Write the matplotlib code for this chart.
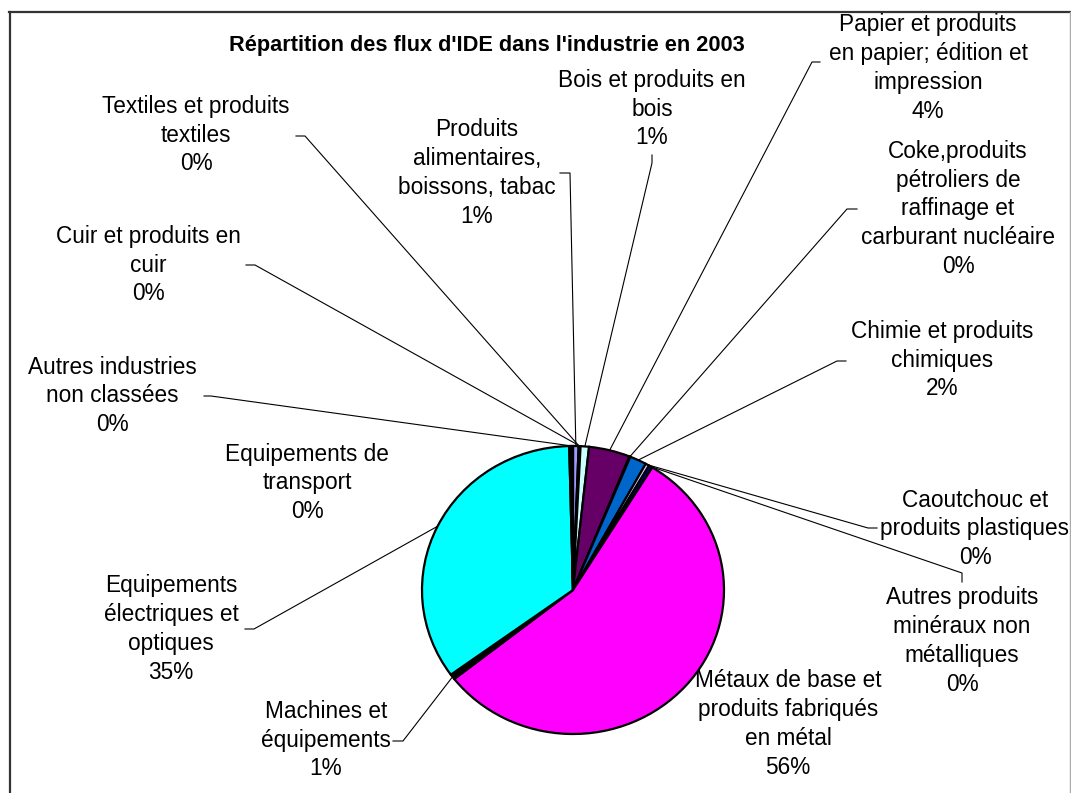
import matplotlib
matplotlib.use('Agg')
import numpy as np
import matplotlib.pyplot as plt

plt.rcParams['font.family'] = ['Liberation Sans', 'DejaVu Sans']

# %% data (share of FDI flows, %)
sectors = ['Produits\nalimentaires,\nboissons, tabac',
           'Textiles et produits\ntextiles',
           'Cuir et produits en\ncuir',
           'Bois et produits en\nbois',
           'Papier et produits\nen papier; édition et\nimpression',
           'Coke,produits\npétroliers de\nraffinage et\ncarburant nucléaire',
           'Chimie et produits\nchimiques',
           'Caoutchouc et\nproduits plastiques',
           'Autres produits\nminéraux non\nmétalliques',
           'Métaux de base et\nproduits fabriqués\nen métal',
           'Machines et\néquipements',
           'Equipements\nélectriques et\noptiques',
           'Equipements de\ntransport',
           'Autres industries\nnon classées']
values = [0.6, 0.1, 0.1, 0.9, 4.4, 0.1, 1.8, 0.4, 0.4, 55.6, 0.6, 34.6, 0.2, 0.2]
colors = ['#9999FF', '#993366', '#FFFFCC', '#CCFFFF', '#660066', '#FF8080', '#0066CC',
          '#CCCCFF', '#000080', '#FF00FF', '#000000', '#00FFFF', '#800080', '#800000']

# label layout in pixels: text centre, leader start, leader kink (None = no leader)
label_xy = [(477, 173), (196, 135), (148, 265), (652, 109), (928, 68), (958, 209),
            (942, 360), (975, 529), (962, 641), (788, 724), (326, 740), (171, 629),
            (307, 483), (112, 396)]
leader_pts = [((560, 173), (570, 173)), ((296, 136), (305, 136)), ((246, 265), (255, 265)),
              ((652, 155), (652, 163)), ((820, 62), (812, 62)), ((857, 209), (847, 209)),
              ((846, 361), (837, 361)), ((877, 528), (868, 528)), ((962, 582), (962, 573)),
              None, ((393, 741), (403, 741)), ((245, 629), (254, 629)), None,
              ((204, 396), (211, 396))]

W, H = 1071, 793
fig = plt.figure(figsize=(W / 100, H / 100), dpi=100)

# overlay axes in pixel coordinates
ov = fig.add_axes([0, 0, 1, 1])
ov.set_xlim(0, W)
ov.set_ylim(H, 0)
ov.axis('off')

# pie axes (slightly elliptical like the original)
left, right, top, bottom = 422, 724, 446, 734
ax = fig.add_axes([left / W, (H - bottom) / H, (right - left) / W, (bottom - top) / H])
ax.patch.set_alpha(0)
wedges, _ = ax.pie(values, colors=colors, startangle=90, counterclock=False,
                   wedgeprops=dict(edgecolor='black', linewidth=1.6))
ax.set_aspect('auto')
ax.set_xlim(-1, 1)
ax.set_ylim(-1, 1)
ax.axis('off')

total = sum(values)
to_pix = ax.transData + ov.transData.inverted()
for i, w in enumerate(wedges):
    text = sectors[i] + '\n' + f'{round(values[i] / total * 100)}%'
    ov.text(label_xy[i][0], label_xy[i][1], text, ha='center', va='center',
            multialignment='center', fontsize=16.3, linespacing=1.32, color='black')
    if leader_pts[i] is None:
        continue
    mid = np.deg2rad((w.theta1 + w.theta2) / 2)
    ex, ey = to_pix.transform((np.cos(mid), np.sin(mid)))
    (sx, sy), (kx, ky) = leader_pts[i]
    ov.plot([sx, kx, ex], [sy, ky, ey], color='black', lw=0.8)

ov.text(487, 46, "Répartition des flux d'IDE dans l'industrie en 2003", ha='center',
        va='center', fontsize=15.7, fontweight='bold')

# chart frame
ov.plot([9.5, 9.5], [12, H], color='#333333', lw=1.6)
ov.plot([9, 1070], [12, 12], color='#333333', lw=1.6)
ov.plot([1070, 1070], [12, H], color='#aaaaaa', lw=1.0)

fig.savefig('out.png', dpi=100)
